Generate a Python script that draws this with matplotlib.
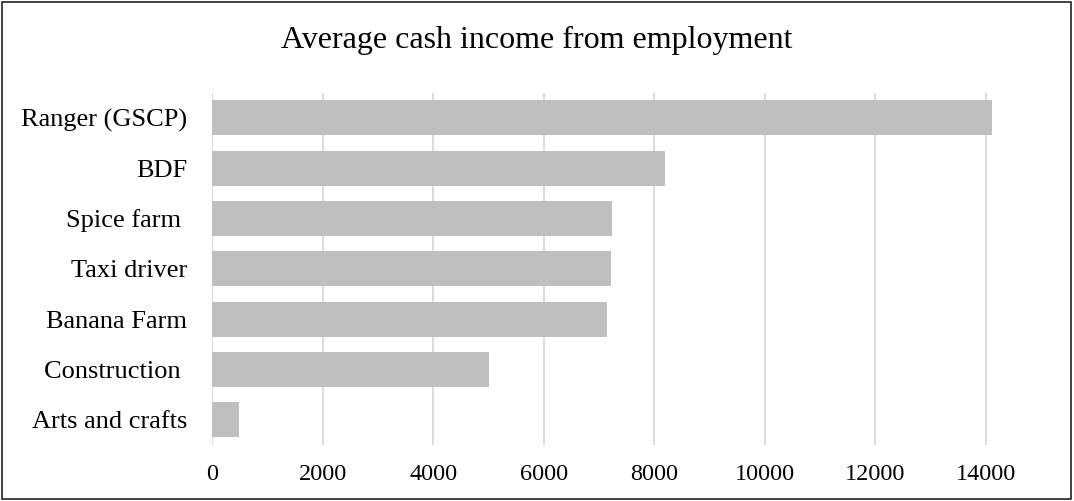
import matplotlib.pyplot as plt
from matplotlib.patches import Rectangle

# Average cash income by type of employment
jobs = ["Ranger (GSCP)", "BDF", "Spice farm ", "Taxi driver",
        "Banana Farm", "Construction ", "Arts and crafts"]
income = [14100, 8200, 7240, 7210, 7140, 5000, 490]
x_ticks = [0, 2000, 4000, 6000, 8000, 10000, 12000, 14000]

plt.rcParams["font.family"] = ["Liberation Serif", "DejaVu Serif"]

fig = plt.figure(figsize=(10.74, 5.01), dpi=100)
ax = fig.add_axes([0.1977, 0.1118, 0.7718, 0.7032])

pos = list(range(len(jobs)))[::-1]
ax.barh(pos, income, height=0.7, color="#BFBFBF", zorder=2)

ax.set_xlim(0, 15000)
ax.set_ylim(-0.5, len(jobs) - 0.5)
ax.set_xticks(x_ticks)
ax.set_xticklabels([str(t) for t in x_ticks])
ax.set_yticks(pos)
ax.set_yticklabels(jobs)
ax.tick_params(axis="x", length=0, pad=13.5, labelsize=17.5)
ax.tick_params(axis="y", length=0, pad=18, labelsize=19)

ax.grid(axis="x", color="#D9D9D9", linewidth=1.3, zorder=0)
ax.grid(axis="y", visible=False)
for s in ax.spines.values():
    s.set_visible(False)

fig.text(0.5, 0.904, "Average cash income from employment",
         ha="center", va="baseline", fontsize=23)

# frame around the whole chart
fig.patches.append(Rectangle((0.002, 0.003), 0.995, 0.993, transform=fig.transFigure,
                             fill=False, edgecolor="#222222", linewidth=1.2))

fig.savefig("out.png", dpi=100)
